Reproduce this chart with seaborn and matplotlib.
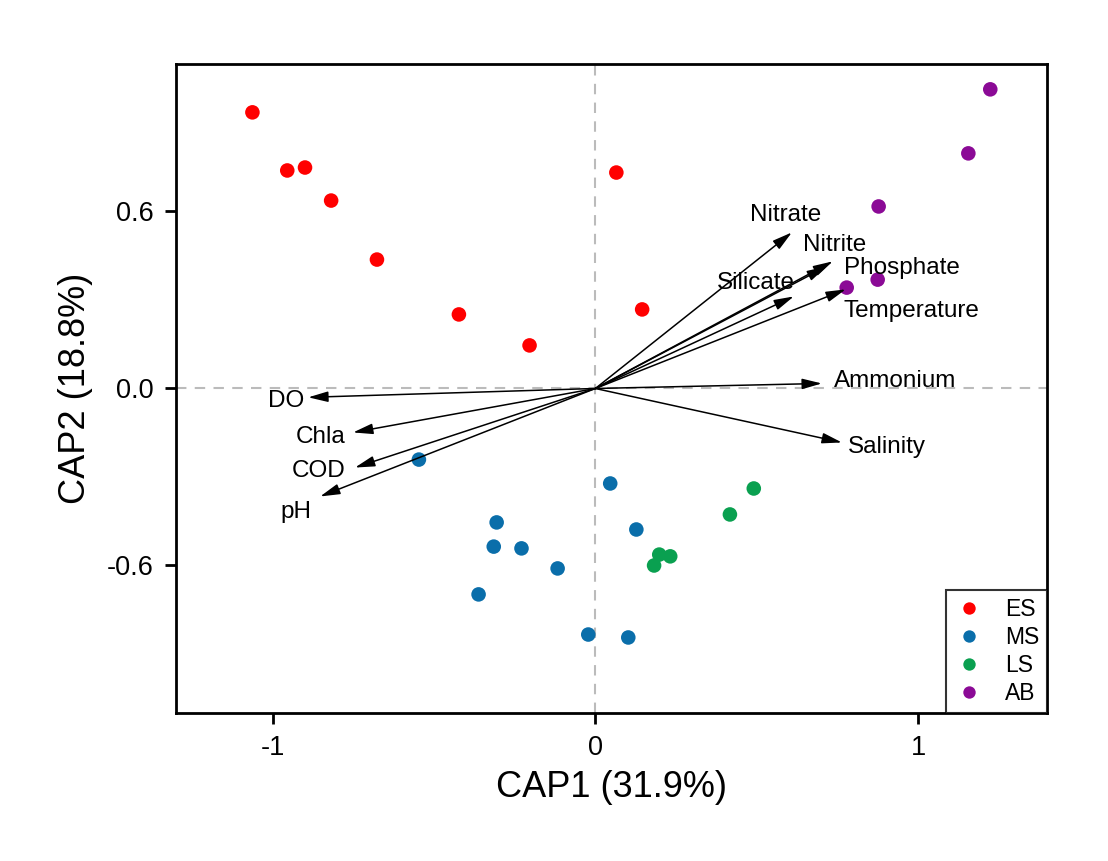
import matplotlib
matplotlib.use("Agg")
import matplotlib.pyplot as plt
import seaborn as sns
import pandas as pd

# ---- data ----
groups = ["ES", "MS", "LS", "AB"]
es_x = [-1.063, -0.955, -0.900, -0.819, -0.677, -0.423, -0.204, 0.065, 0.145]
es_y = [0.936, 0.739, 0.749, 0.637, 0.437, 0.251, 0.146, 0.732, 0.268]
ms_x = [-0.547, 0.046, -0.306, -0.315, -0.229, 0.127, -0.117, -0.362, -0.022, 0.102]
ms_y = [-0.241, -0.322, -0.454, -0.536, -0.542, -0.478, -0.610, -0.698, -0.834, -0.844]
ls_x = [0.491, 0.417, 0.198, 0.232, 0.182]
ls_y = [-0.339, -0.427, -0.563, -0.569, -0.600]
ab_x = [1.224, 1.156, 0.878, 0.875, 0.779]
ab_y = [1.014, 0.797, 0.617, 0.369, 0.342]

env_names = ["Nitrate", "Nitrite", "Phosphate", "Silicate", "Temperature",
             "Ammonium", "Salinity", "DO", "Chla", "COD", "pH"]
env_x = [0.609, 0.736, 0.717, 0.615, 0.776, 0.702, 0.764, -0.890, -0.751, -0.745, -0.853]
env_y = [0.529, 0.431, 0.414, 0.312, 0.336, 0.017, -0.183, -0.030, -0.149, -0.268, -0.366]

x_label = "CAP1 (31.9%)"
y_label = "CAP2 (18.8%)"
x_ticks = [-1, 0, 1]
y_ticks = [-0.6, 0.0, 0.6]

# ---- styling ----
palette = {"ES": "#FF0000", "MS": "#0A6EAA", "LS": "#0AA050", "AB": "#8B0A96"}
# label offsets (data units) relative to arrow tips
label_offsets = {
    "Nitrate": (-0.02, 0.06), "Nitrite": (0.006, 0.054), "Phosphate": (0.232, -0.007),
    "Silicate": (-0.117, 0.044), "Temperature": (0.204, -0.075), "Ammonium": (0.228, 0.010),
    "Salinity": (0.139, -0.017), "DO": (-0.068, -0.014), "Chla": (-0.102, -0.017),
    "COD": (-0.114, -0.013), "pH": (-0.074, -0.051),
}

sns.set_theme(style="ticks")
plt.rcParams["font.family"] = ["Liberation Sans", "DejaVu Sans"]
plt.rcParams["axes.unicode_minus"] = False
plt.rcParams["text.color"] = "black"
plt.rcParams["axes.labelcolor"] = "black"

df = pd.DataFrame({
    "x": es_x + ms_x + ls_x + ab_x,
    "y": es_y + ms_y + ls_y + ab_y,
    "group": (["ES"] * len(es_x) + ["MS"] * len(ms_x) + ["LS"] * len(ls_x) + ["AB"] * len(ab_x)),
})

fig = plt.figure(figsize=(11.08, 8.61), dpi=100)
ax = fig.add_axes([0.1588, 0.1719, 0.7862, 0.7538])

ax.axhline(0, color="#BBBBBB", lw=1.5, ls=(0, (5, 4)), zorder=0)
ax.axvline(0, color="#BBBBBB", lw=1.5, ls=(0, (5, 4)), zorder=0)

sns.scatterplot(data=df, x="x", y="y", hue="group", hue_order=groups, palette=palette,
                s=110, edgecolor="none", linewidth=0, ax=ax, zorder=3)

for name, ex, ey in zip(env_names, env_x, env_y):
    ax.annotate("", xy=(ex, ey), xytext=(0, 0),
                arrowprops=dict(arrowstyle="-|>,head_length=0.75,head_width=0.2",
                                color="black", lw=1.1,
                                mutation_scale=16, shrinkA=0, shrinkB=0),
                zorder=4)
    dx, dy = label_offsets[name]
    ax.text(ex + dx, ey + dy, name, fontsize=17.5, ha="center", va="center",
            color="black", zorder=5)

ax.set_xlim(-1.3, 1.4)
ax.set_ylim(-1.1, 1.1)
ax.set_xticks(x_ticks)
ax.set_xticklabels([f"{v:g}" for v in x_ticks])
ax.set_yticks(y_ticks)
ax.set_yticklabels([f"{v:.1f}" for v in y_ticks])
ax.tick_params(axis="both", direction="out", length=8, width=2, labelsize=19.5,
               colors="black", pad=8)
for sp in ax.spines.values():
    sp.set_linewidth(2)
    sp.set_color("black")
    sp.set_visible(True)

ax.set_xlabel(x_label, fontsize=26, labelpad=6, color="black")
ax.set_ylabel(y_label, fontsize=26, labelpad=10, color="black")

leg = ax.legend(loc="lower right", borderaxespad=0, frameon=True, fancybox=False,
                edgecolor="black", fontsize=16.5, markerscale=0.85, handletextpad=0.9,
                borderpad=0.35, labelspacing=0.22, handlelength=1.3, labelcolor="black")
leg.get_frame().set_linewidth(1.5)

fig.savefig("out.png", dpi=100, facecolor="white")
